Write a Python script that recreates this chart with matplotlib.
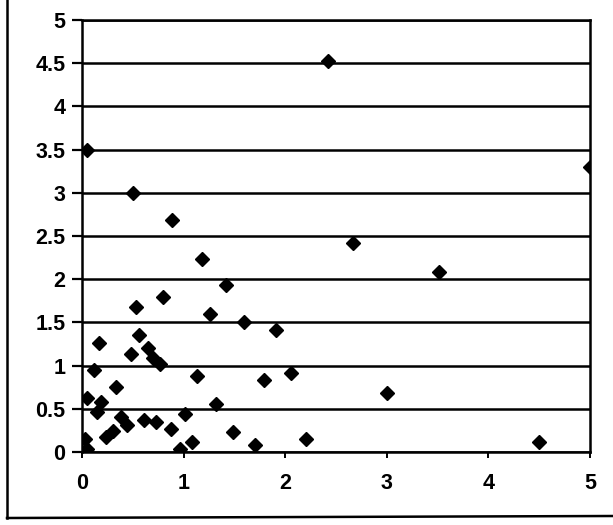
import matplotlib
matplotlib.use("Agg")
import matplotlib.pyplot as plt
from matplotlib.lines import Line2D

x_vals = [0.05, 2.42, 0.50, 0.89, 2.67, 3.51, 1.18, 1.42, 0.80, 0.53,
          1.26, 1.59, 1.91, 0.56, 0.17, 0.65, 0.48, 0.70, 0.77, 0.12,
          1.13, 2.06, 1.79, 0.33, 3.00, 0.05, 0.19, 0.15, 1.32, 1.01,
          0.38, 0.44, 0.61, 0.73, 0.88, 0.31, 0.24, 0.03, 0.05, 1.49,
          0.96, 1.08, 1.70, 2.20, 4.50, 5.00]
y_vals = [3.50, 4.52, 3.00, 2.69, 2.42, 2.08, 2.23, 1.93, 1.79, 1.68,
          1.60, 1.50, 1.41, 1.35, 1.26, 1.20, 1.14, 1.09, 1.02, 0.95,
          0.88, 0.92, 0.83, 0.75, 0.68, 0.63, 0.58, 0.46, 0.55, 0.44,
          0.41, 0.31, 0.37, 0.35, 0.27, 0.24, 0.17, 0.15, 0.03, 0.23,
          0.04, 0.12, 0.08, 0.15, 0.12, 3.30]

x_ticks = [0, 1, 2, 3, 4, 5]
y_ticks = [0, 0.5, 1, 1.5, 2, 2.5, 3, 3.5, 4, 4.5, 5]
y_tick_labels = ["0", "0.5", "1", "1.5", "2", "2.5", "3", "3.5", "4", "4.5", "5"]

plt.rcParams['font.family'] = ['Liberation Sans', 'DejaVu Sans']

fig = plt.figure(figsize=(6.13, 5.25), dpi=100)
ax = fig.add_axes([82/613, 1 - 452/525, (590-82)/613, (452-20)/525])

ax.set_xlim(0, 5)
ax.set_ylim(0, 5)
ax.set_xticks(x_ticks)
ax.set_xticklabels([str(t) for t in x_ticks])
ax.set_yticks(y_ticks)
ax.set_yticklabels(y_tick_labels)

for yv in y_ticks:
    ax.axhline(yv, color='black', linewidth=1.8, zorder=1)

ax.plot(x_vals, y_vals, linestyle='none', marker='D', markersize=7.2,
        color='black', markeredgecolor='black', zorder=3, clip_on=True)

for s in ax.spines.values():
    s.set_linewidth(1.8)
    s.set_color('black')

ax.tick_params(axis='y', direction='out', length=7, width=1.6, pad=5,
               labelsize=15.5)
ax.tick_params(axis='x', direction='out', length=4, width=1.4, pad=11,
               labelsize=15.5)
for lab in ax.get_xticklabels() + ax.get_yticklabels():
    lab.set_fontweight('bold')

# outer frame (left and bottom edges)
fig.add_artist(Line2D([7/613, 7/613], [1 - 518/525, 1.0], transform=fig.transFigure,
                      color='black', linewidth=1.8))
fig.add_artist(Line2D([7/613, 1.0], [1 - 518/525, 1 - 516/525], transform=fig.transFigure,
                      color='black', linewidth=1.8))

fig.savefig("out.png", dpi=100)
